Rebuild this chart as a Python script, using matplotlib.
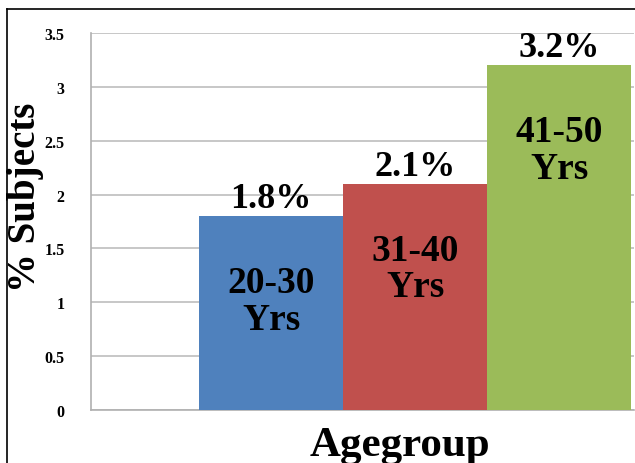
import matplotlib
matplotlib.use("Agg")
import matplotlib.pyplot as plt
from matplotlib.lines import Line2D

# Data
groups = ["20-30\nYrs", "31-40\nYrs", "41-50\nYrs"]
percent = [1.8, 2.1, 3.2]
value_labels = ["1.8%", "2.1%", "3.2%"]
colors = ["#4F81BD", "#C0504D", "#9BBB59"]
yticks = [0, 0.5, 1, 1.5, 2, 2.5, 3, 3.5]
ytick_labels = ["0", "0.5", "1", "1.5", "2", "2.5", "3", "3.5"]

plt.rcParams["font.family"] = ["Liberation Serif", "DejaVu Serif"]
plt.rcParams["font.weight"] = "bold"

W, H = 635, 464
fig = plt.figure(figsize=(W / 100, H / 100), dpi=100)
ax = fig.add_axes([91 / W, (H - 411) / H, (634 - 91) / W, (411 - 34) / H])

x = list(range(len(groups)))
ax.bar(x, percent, width=1.0, color=colors, zorder=3)

ax.set_ylim(0, 3.5)
ax.set_xlim(-0.5 - 108 / 144, 2.52)
ax.set_yticks(yticks)
ax.set_yticklabels(ytick_labels, fontsize=11.5, fontweight="bold")
ax.set_xticks([])
ax.tick_params(axis="y", length=0, pad=19)
ax.grid(axis="y", color="#bdbdbd", linewidth=1.2, zorder=0)

for side in ["top", "right"]:
    ax.spines[side].set_visible(False)
for side in ["left", "bottom"]:
    ax.spines[side].set_color("#b0b0b0")
    ax.spines[side].set_linewidth(1.2)

# Value labels above bars and group labels inside bars
for xi, v, lab, g in zip(x, percent, value_labels, groups):
    ax.annotate(lab, (xi, v), xytext=(0, 6.5), textcoords="offset points",
                ha="center", va="baseline", fontsize=26, fontweight="bold")
    ax.annotate(g, (xi, v), xytext=(0, -61), textcoords="offset points",
                ha="center", va="center", fontsize=27, fontweight="bold",
                linespacing=1.05)

fig.text(26 / W, 1 - 197 / H, "% Subjects", rotation=90, ha="center",
         va="center", fontsize=28, fontweight="bold")
fig.text(400 / W, 1 - 456 / H, "Agegroup", ha="center", va="baseline",
         fontsize=31, fontweight="bold")

# Frame lines along the top and left edge of the figure
fig.add_artist(Line2D([7 / W, 1], [1 - 10 / H, 1 - 10 / H], color="black",
                      linewidth=1.2, transform=fig.transFigure))
fig.add_artist(Line2D([7 / W, 7 / W], [0, 1 - 10 / H], color="black",
                      linewidth=1.2, transform=fig.transFigure))

fig.savefig("out.png", dpi=100)
